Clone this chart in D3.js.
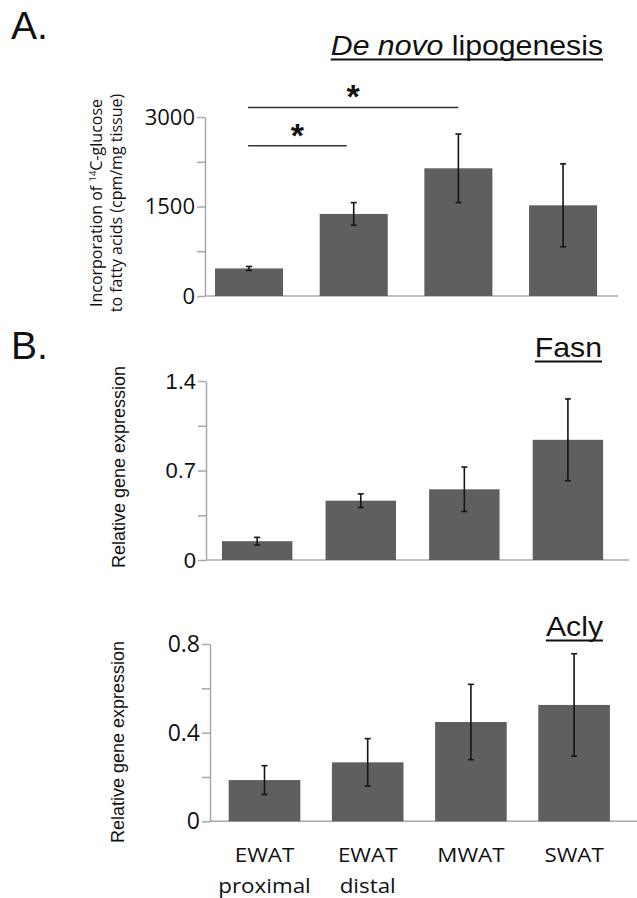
<!DOCTYPE html>
<html><head><meta charset="utf-8">
<script src="https://cdn.jsdelivr.net/npm/d3@7"></script>
<style>body{margin:0;background:#fff}</style>
</head><body>
<svg id="chart" width="637" height="898"></svg>
<script>
// ---------------- data ----------------
const categories = ["EWAT proximal", "EWAT distal", "MWAT", "SWAT"];
const catLine1 = ["EWAT", "EWAT", "MWAT", "SWAT"];
const catLine2 = ["proximal", "distal", "", ""];

const dnlMean = [462, 1375, 2140, 1520];
const dnlErr  = [33, 190, 575, 695];
const fasnMean = [0.147, 0.464, 0.553, 0.940];
const fasnErr  = [0.030, 0.053, 0.174, 0.320];
const aclyMean = [0.186, 0.266, 0.448, 0.525];
const aclyErr  = [0.065, 0.107, 0.170, 0.231];

const dnlTicks = [0, 750, 1500, 2250, 3000];
const dnlTickLabels = ["0", "", "1500", "", "3000"];
const fasnTicks = [0, 0.35, 0.7, 1.05, 1.4];
const fasnTickLabels = ["0", "", "0.7", "", "1.4"];
const aclyTicks = [0, 0.2, 0.4, 0.6, 0.8];
const aclyTickLabels = ["0", "", "0.4", "", "0.8"];

const sigPairs = [[0, 1], [0, 2]];
const sigLevels = [2520, 3160];
const sigLabels = ["*", "*"];

// ---------------- styles ----------------
const barColor = "#5f5f5f";
const axisColor = "#a8a8a8";
const errColor = "#151515";
const svg = d3.select("#chart");

function drawPanel(o) {
  const x = d3.scaleBand().domain(categories).range(o.xr)
    .paddingInner(o.pi).paddingOuter(o.pi / 2);
  const y = d3.scaleLinear().domain(o.dom).range(o.yr);

  // x baseline
  svg.append("line")
    .attr("x1", o.ax0).attr("x2", o.ax1)
    .attr("y1", y(0)).attr("y2", y(0))
    .attr("stroke", axisColor).attr("stroke-width", 1.5);

  // y axis
  const g = svg.append("g").attr("transform", `translate(${o.ax0},0)`)
    .call(d3.axisLeft(y).tickValues(o.ticks)
      .tickFormat((d, i) => o.labels[i])
      .tickSize(8).tickSizeOuter(0).tickPadding(2));
  g.select(".domain").attr("stroke", axisColor).attr("stroke-width", 1.5);
  g.selectAll(".tick line").attr("stroke", axisColor).attr("stroke-width", 1.5);
  g.selectAll(".tick text")
    .attr("fill", "#111")
    .style("font-family", o.tickFont)
    .style("font-size", o.tickSize + "px");

  // bars
  svg.append("g").selectAll("rect").data(categories).join("rect")
    .attr("x", d => x(d))
    .attr("y", (d, i) => y(o.mean[i]))
    .attr("width", x.bandwidth())
    .attr("height", (d, i) => y(0) - y(o.mean[i]))
    .attr("fill", barColor);

  // error bars
  const eg = svg.append("g").attr("stroke", errColor).attr("stroke-width", 1.6);
  categories.forEach((c, i) => {
    const cx = x(c) + x.bandwidth() / 2;
    const lo = y(o.mean[i] - o.err[i]), hi = y(o.mean[i] + o.err[i]);
    eg.append("line").attr("x1", cx).attr("x2", cx).attr("y1", lo).attr("y2", hi);
    eg.append("line").attr("x1", cx - 3).attr("x2", cx + 3).attr("y1", lo).attr("y2", lo);
    eg.append("line").attr("x1", cx - 3).attr("x2", cx + 3).attr("y1", hi).attr("y2", hi);
  });

  // title (underlined, right aligned, slightly stretched)
  const sx = 1.08;
  const t = svg.append("text")
    .attr("transform", `translate(${o.titleX},${o.titleY}) scale(${sx},1)`)
    .attr("text-anchor", "end")
    .style("font-family", "'Liberation Sans', Arial, sans-serif")
    .style("font-size", "28px").attr("fill", "#111");
  o.title.forEach(p => t.append("tspan").text(p.t).style("font-style", p.it ? "italic" : "normal"));
  const w = t.node().getComputedTextLength() * sx;
  svg.append("line").attr("x1", o.titleX - w).attr("x2", o.titleX)
    .attr("y1", o.titleY + 4.5).attr("y2", o.titleY + 4.5)
    .attr("stroke", "#111").attr("stroke-width", 1.8);

  // y label(s)
  o.ylab.forEach((l, k) => {
    svg.append("text")
      .attr("transform", `translate(${o.ylabX[k]},${o.ylabY}) rotate(-90)`)
      .attr("text-anchor", "middle")
      .style("font-family", o.ylabFont)
      .style("font-size", o.ylabSize + "px").attr("fill", "#111")
      .each(function () {
        const el = d3.select(this);
        l.forEach(p => {
          const ts = el.append("tspan").text(p.t);
          if (p.sup) ts.attr("baseline-shift", "super").style("font-size", (o.ylabSize * 0.6) + "px");
        });
      });
  });
  return { x, y };
}

// ---------- Panel A ----------
const A = drawPanel({
  xr: [196.7, 615.4], pi: 0.35, dom: [0, 3000], yr: [296, 117],
  ax0: 205, ax1: 618,
  ticks: dnlTicks, labels: dnlTickLabels, tickFont: "'Open Sans', sans-serif", tickSize: 22,
  mean: dnlMean, err: dnlErr,
  title: [{ t: "De novo", it: true }, { t: " lipogenesis" }], titleX: 603, titleY: 55,
  ylab: [[{ t: "Incorporation of " }, { t: "14", sup: true }, { t: "C-glucose" }],
         [{ t: "to fatty acids (cpm/mg tissue)" }]],
  ylabX: [101.5, 121.5], ylabY: 203, ylabFont: "'Open Sans', sans-serif", ylabSize: 16
});

// significance brackets
sigPairs.forEach((p, k) => {
  const xa = A.x(categories[p[0]]) + A.x.bandwidth() / 2 - 1;
  const xb = A.x(categories[p[1]]) + A.x.bandwidth() / 2 - (k === 0 ? 7 : 0);
  const yy = A.y(sigLevels[k]);
  svg.append("line").attr("x1", xa).attr("x2", xb).attr("y1", yy).attr("y2", yy)
    .attr("stroke", "#333").attr("stroke-width", 1.5);
  svg.append("text").attr("x", (xa + xb) / 2).attr("y", yy - 18 + 19)
    .attr("text-anchor", "middle")
    .style("font-family", "'Liberation Sans', Arial, sans-serif")
    .style("font-weight", "bold").style("font-size", "34px").attr("fill", "#111")
    .text(sigLabels[k]);
});

// ---------- Panel B: Fasn ----------
drawPanel({
  xr: [205.4, 619.7], pi: 0.32, dom: [0, 1.4], yr: [560, 381],
  ax0: 206, ax1: 629,
  ticks: fasnTicks, labels: fasnTickLabels, tickFont: "'Liberation Sans', Arial, sans-serif", tickSize: 22,
  mean: fasnMean, err: fasnErr,
  title: [{ t: "Fasn" }], titleX: 602, titleY: 357,
  ylab: [[{ t: "Relative gene expression" }]],
  ylabX: [125], ylabY: 467, ylabFont: "'Liberation Sans', Arial, sans-serif", ylabSize: 18
});

// ---------- Panel B: Acly ----------
const C = drawPanel({
  xr: [212.9, 625.7], pi: 0.306, dom: [0, 0.8], yr: [821.3, 644],
  ax0: 210, ax1: 637,
  ticks: aclyTicks, labels: aclyTickLabels, tickFont: "'Open Sans', sans-serif", tickSize: 23,
  mean: aclyMean, err: aclyErr,
  title: [{ t: "Acly" }], titleX: 603, titleY: 636,
  ylab: [[{ t: "Relative gene expression" }]],
  ylabX: [124], ylabY: 742, ylabFont: "'Liberation Sans', Arial, sans-serif", ylabSize: 18
});

// category labels
categories.forEach((c, i) => {
  const cx = C.x(c) + C.x.bandwidth() / 2;
  [catLine1[i], catLine2[i]].forEach((s, k) => {
    if (!s) return;
    svg.append("text")
      .attr("transform", `translate(${cx},${k === 0 ? 862 : 893}) scale(1.12,1)`)
      .attr("text-anchor", "middle")
      .style("font-family", "'Open Sans', sans-serif")
      .style("font-size", "20px").attr("fill", "#111").text(s);
  });
});

// panel letters
[["A.", 39], ["B.", 359]].forEach(([s, yy]) => {
  svg.append("text").attr("x", 11).attr("y", yy)
    .style("font-family", "'Liberation Sans', Arial, sans-serif")
    .style("font-size", "39px").attr("fill", "#111").text(s);
});
</script>
</body></html>
